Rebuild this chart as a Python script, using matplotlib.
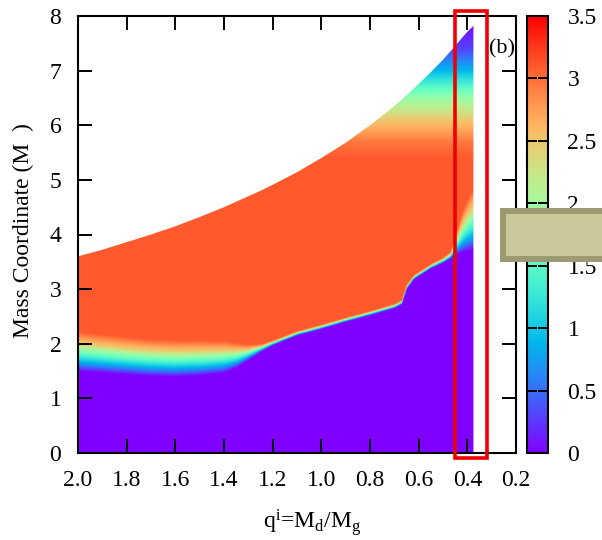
import numpy as np
import matplotlib
matplotlib.use("Agg")
import matplotlib.pyplot as plt
from matplotlib.patches import Polygon, Rectangle

plt.rcParams['font.family'] = 'Liberation Serif'
plt.rcParams['mathtext.fontset'] = 'custom'
plt.rcParams['mathtext.rm'] = 'Liberation Serif'
plt.rcParams['mathtext.it'] = 'Liberation Serif'
plt.rcParams['font.size'] = 17

# columns of the map (initial mass ratio) and what each column looks like
q_cols = [2.0, 1.9, 1.8, 1.7, 1.6, 1.5, 1.4, 1.35, 1.3, 1.25, 1.2, 1.1, 1.0, 0.9,
          0.8, 0.7, 0.67, 0.65, 0.62, 0.55, 0.5, 0.47, 0.45, 0.42, 0.4, 0.375]
top_edge = [3.60, 3.72, 3.86, 4.00, 4.15, 4.32, 4.50, 4.60, 4.70, 4.80, 4.91, 5.14, 5.40, 5.68,
            6.00, 6.35, 6.47, 6.55, 6.67, 6.97, 7.20, 7.35, 7.45, 7.61, 7.71, 7.82]
core_edge = [1.50, 1.47, 1.44, 1.41, 1.40, 1.42, 1.47, 1.56, 1.70, 1.85, 1.97, 2.15, 2.27, 2.40,
             2.52, 2.65, 2.72, 3.00, 3.18, 3.38, 3.48, 3.56, 3.63, 3.68, 3.70, 3.72]
band_width = [0.72, 0.70, 0.68, 0.67, 0.66, 0.64, 0.58, 0.45, 0.28, 0.14, 0.09, 0.08, 0.08, 0.08,
              0.08, 0.08, 0.08, 0.08, 0.08, 0.08, 0.10, 0.12, 0.35, 0.75, 0.95, 1.15]

# value across the core/envelope transition (fraction of band width)
band_frac = [0.0, 0.15, 0.36, 0.54, 0.70, 1.0]
band_val = [0.05, 0.6, 1.3, 1.9, 2.5, 3.1]
# fading towards the surface
fade_mass = [5.4, 5.7, 6.1, 6.45, 6.8, 7.0, 7.4, 7.9]
fade_val = [3.1, 2.95, 2.5, 2.0, 1.3, 0.9, 0.3, 0.0]

# render grid (column settings spread over the image pixels)
qa = np.array(q_cols)[::-1]
q_fine = np.linspace(q_cols[0], q_cols[-1], 700)
m_rows = np.linspace(0, 8, 800)
core_f = np.interp(q_fine, qa, np.array(core_edge)[::-1])
width_f = np.interp(q_fine, qa, np.array(band_width)[::-1])
frac = (m_rows[:, None] - core_f[None, :]) / width_f[None, :]
vb = np.interp(frac, band_frac, band_val, left=0.0)
vf = np.interp(m_rows, fade_mass, fade_val)[:, None]
Z = np.minimum(vb, vf)

fig = plt.figure(figsize=(6.02, 5.4), dpi=100)
ax = fig.add_axes([78/602, 87/540, 438/602, 437/540])
cax = fig.add_axes([527/602, 87/540, 21/602, 437/540])

img = ax.imshow(Z, extent=[q_cols[0], q_cols[-1], 0, 8], origin='lower', aspect='auto',
                cmap='rainbow', vmin=0, vmax=3.5, interpolation='bilinear')
outline = [(q, t) for q, t in zip(q_cols, top_edge)] + [(q_cols[-1], 0), (q_cols[0], 0)]
clip = Polygon(outline, closed=True, transform=ax.transData, facecolor='none', edgecolor='none')
ax.add_patch(clip)
img.set_clip_path(clip)

ax.set_xlim(2.0, 0.2)
ax.set_ylim(0, 8)
xt = [2.0, 1.8, 1.6, 1.4, 1.2, 1.0, 0.8, 0.6, 0.4, 0.2]
ax.set_xticks(xt)
ax.set_xticklabels(['%.1f' % v for v in xt])
ax.set_yticks(range(0, 9))
ax.tick_params(direction='in', top=True, right=True, length=10, width=1.4)
ax.tick_params(axis='x', pad=12)
ax.tick_params(axis='y', pad=12)
for s in ax.spines.values():
    s.set_linewidth(1.5)

cb = fig.colorbar(img, cax=cax)
cb.set_ticks([0, 0.5, 1, 1.5, 2, 2.5, 3, 3.5])
cb.set_ticklabels(['0', '0.5', '1', '1.5', '2', '2.5', '3', '3.5'])
cb.outline.set_linewidth(1.5)
cax.tick_params(direction='in', left=True, right=True, length=7, width=1.4, pad=14)

fig.text(23/602, 1 - 231/540, 'Mass Coordinate (M  )', rotation=90,
         ha='center', va='center', fontsize=17)
fig.text(312/602, 12/540, r'q$^{\mathrm{i}}$=M$_{\mathrm{d}}$/M$_{\mathrm{g}}$',
         ha='center', va='baseline', fontsize=17)
fig.text(489/602, 1 - 53/540, '(b)', ha='left', va='baseline', fontsize=16)

# highlight frame and label box drawn over the figure
fig.add_artist(Rectangle((455/602, 1 - 458/540), 32/602, 447/540, fill=False,
                         edgecolor='#ee0000', linewidth=2.6, transform=fig.transFigure, zorder=20))
fig.add_artist(Rectangle((503/602, 1 - 259/540), 110/602, 48/540, facecolor='#cbc899',
                         edgecolor='#9c9a72', linewidth=4.3, transform=fig.transFigure, zorder=20))

fig.savefig('out.png', dpi=100)
